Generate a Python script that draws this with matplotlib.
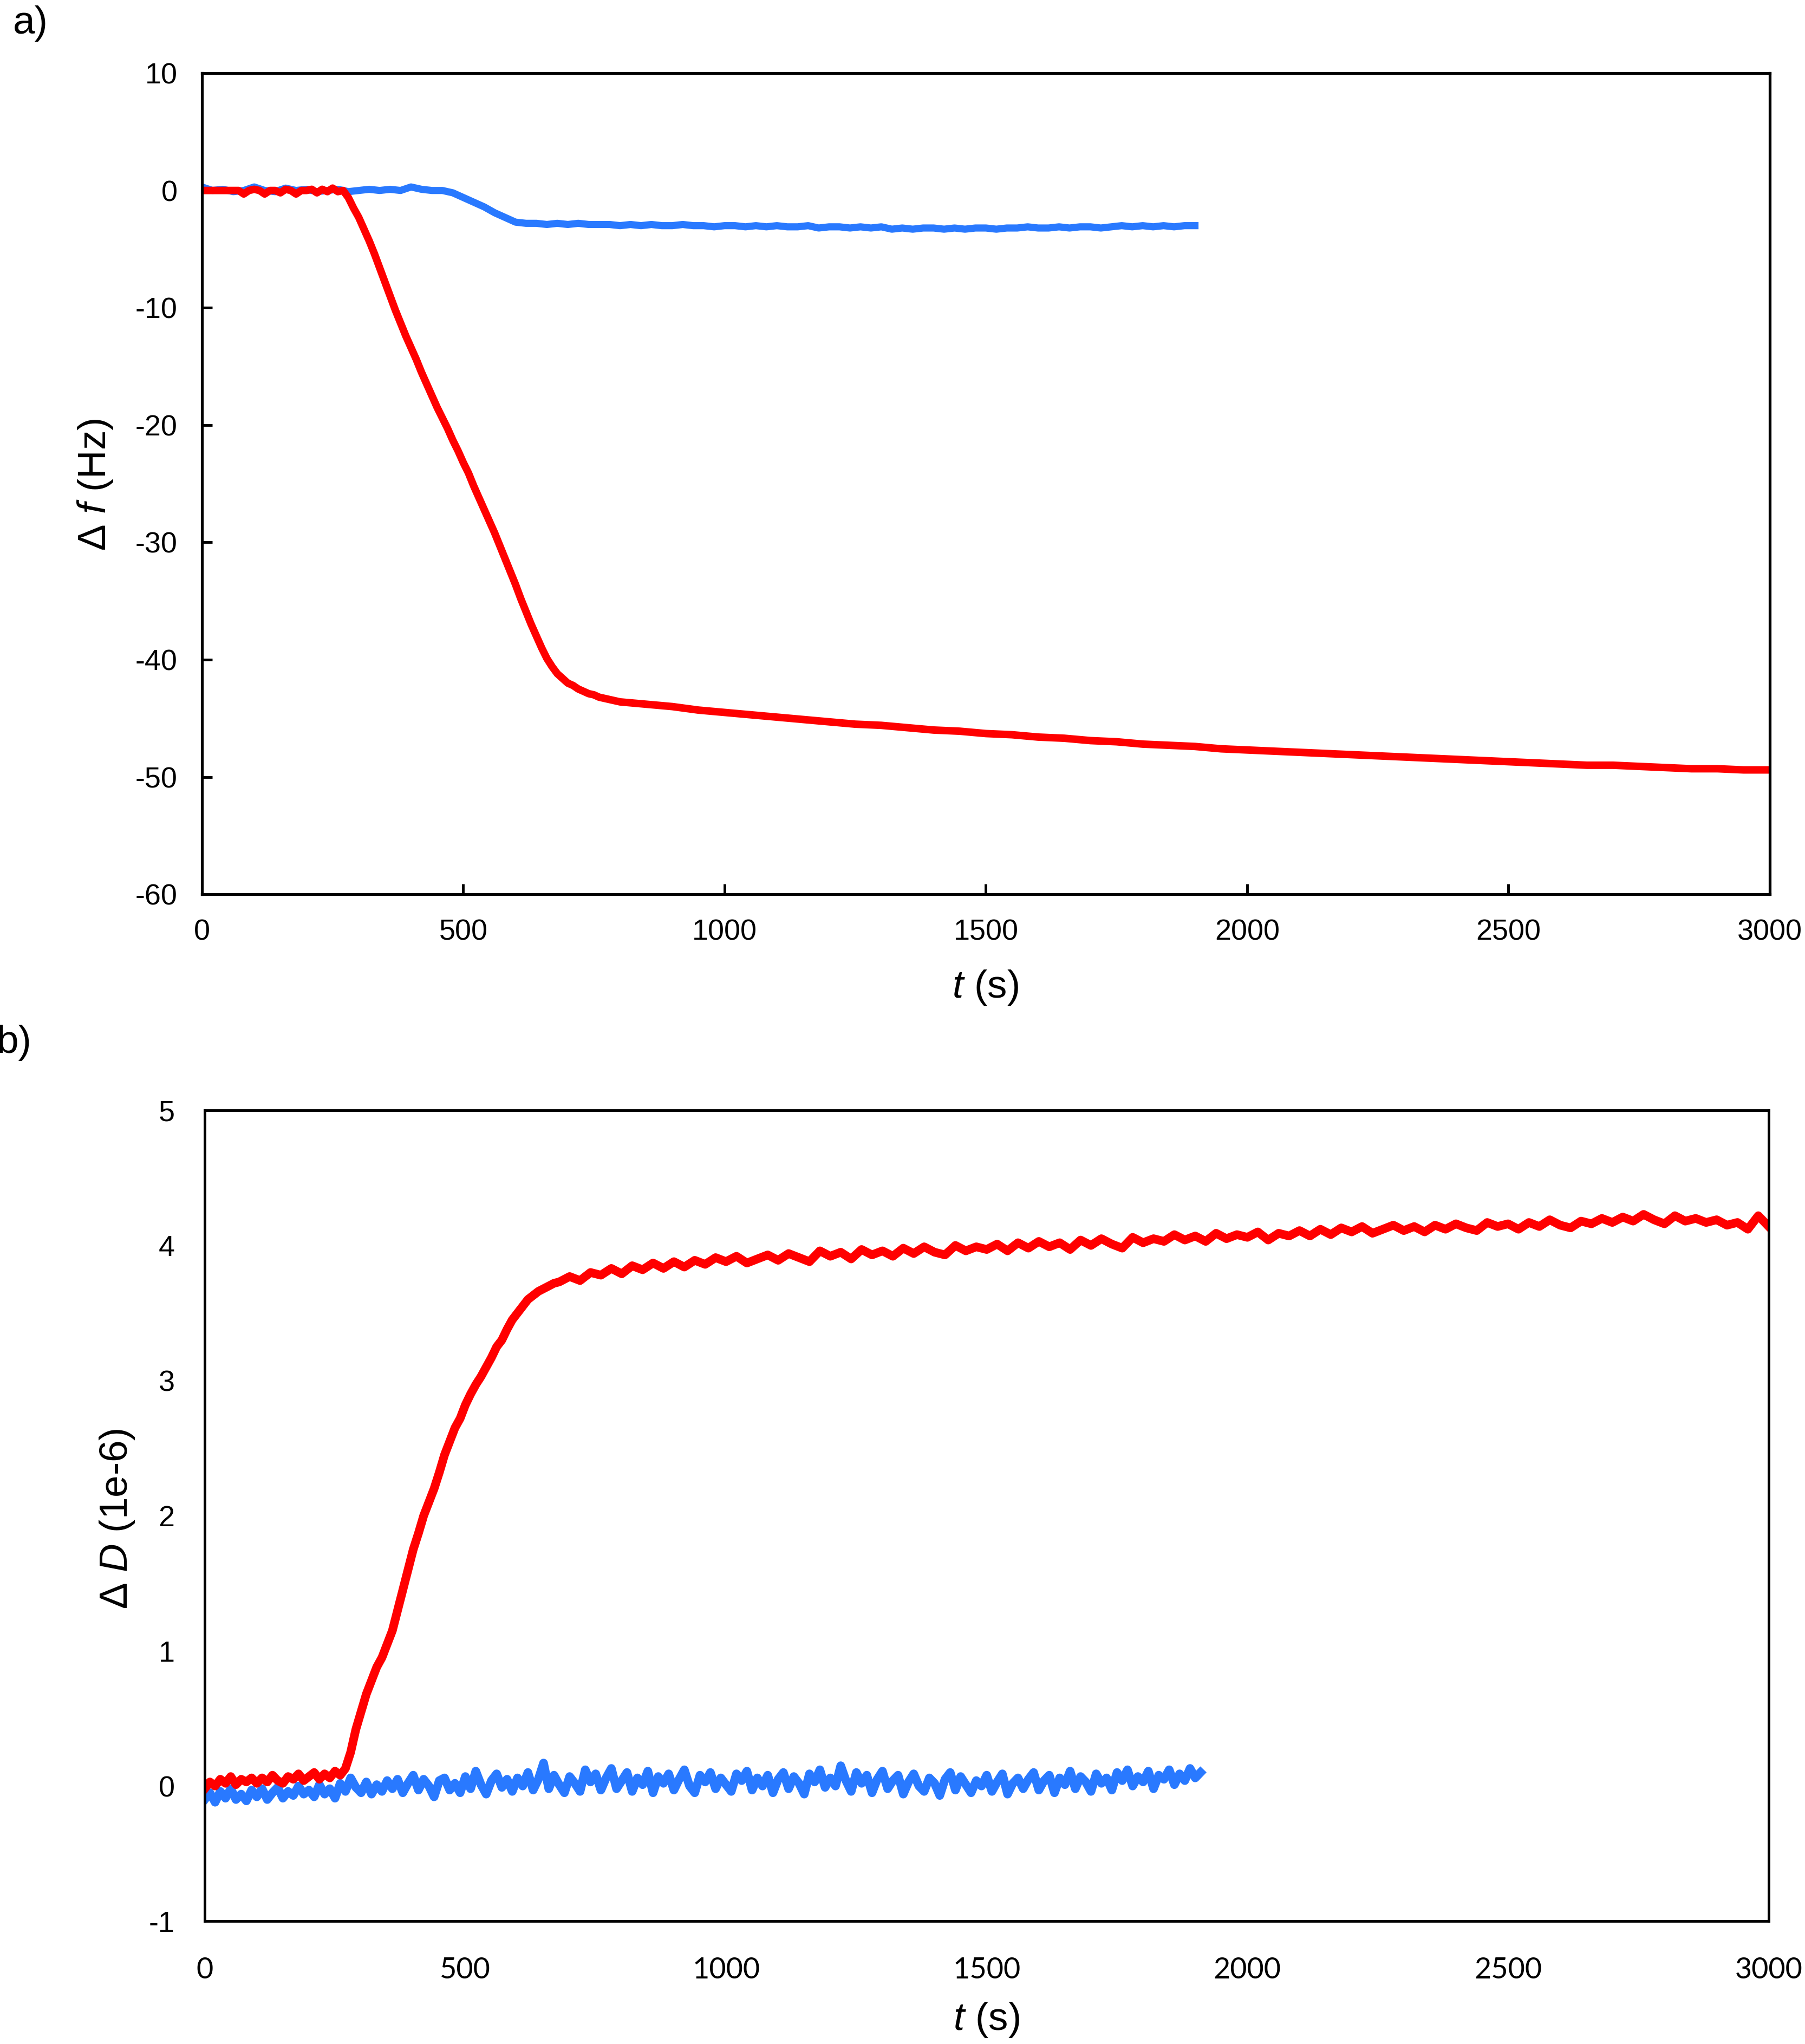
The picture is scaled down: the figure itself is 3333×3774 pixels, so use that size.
import numpy as np
import matplotlib
matplotlib.use("Agg")
import matplotlib.pyplot as plt

plt.rcParams['font.family'] = ['Liberation Sans', 'DejaVu Sans']
plt.rcParams['mathtext.fontset'] = 'custom'
plt.rcParams['mathtext.rm'] = 'Liberation Sans'
plt.rcParams['mathtext.it'] = 'Liberation Sans:italic'
plt.rcParams['axes.unicode_minus'] = False   # plain hyphen like the original

RED = '#FF0000'
BLUE = '#2979FF'

# ============================================
# DATA
# ============================================

# a) frequency shift, blue run, one reading every 20 s (0 ... 1900 s)
df_blue = [
    0.3, 0.0, 0.1, -0.1, 0.0, 0.3, 0.0, -0.1, 0.2, 0.0,
    0.1, -0.1, 0.0, 0.1, -0.1, 0.0, 0.1, 0.0, 0.1, 0.0,
    0.3, 0.1, 0.0, 0.0, -0.2, -0.6, -1.0, -1.4, -1.9, -2.3,
    -2.7, -2.8, -2.8, -2.9, -2.8, -2.9, -2.8, -2.9, -2.9, -2.9,
    -3.0, -2.9, -3.0, -2.9, -3.0, -3.0, -2.9, -3.0, -3.0, -3.1,
    -3.0, -3.0, -3.1, -3.0, -3.1, -3.0, -3.1, -3.1, -3.0, -3.2,
    -3.1, -3.1, -3.2, -3.1, -3.2, -3.1, -3.3, -3.2, -3.3, -3.2,
    -3.2, -3.3, -3.2, -3.3, -3.2, -3.2, -3.3, -3.2, -3.2, -3.1,
    -3.2, -3.2, -3.1, -3.2, -3.1, -3.1, -3.2, -3.1, -3.0, -3.1,
    -3.0, -3.1, -3.0, -3.1, -3.0, -3.0,
]
t_df_blue = np.arange(len(df_blue)) * 20.0

# a) frequency shift, red run: every 10 s up to 790 s ...
df_red_early = [
    0.0, 0.0, 0.0, 0.0, 0.0, 0.0, 0.0, 0.0, -0.3, 0.0,
    0.1, 0.0, -0.3, 0.0, 0.0, -0.2, 0.1, 0.0, -0.3, 0.0,
    0.0, 0.1, -0.2, 0.1, -0.1, 0.2, -0.1, 0.0, -0.6, -1.5,
    -2.3, -3.3, -4.3, -5.4, -6.6, -7.8, -9.0, -10.2, -11.3, -12.4,
    -13.4, -14.4, -15.5, -16.5, -17.5, -18.5, -19.4, -20.3, -21.3, -22.2,
    -23.2, -24.1, -25.2, -26.2, -27.2, -28.2, -29.2, -30.3, -31.4, -32.5,
    -33.6, -34.8, -35.9, -37.0, -38.0, -39.0, -39.9, -40.6, -41.2, -41.6,
    -42.0, -42.2, -42.5, -42.7, -42.9, -43.0, -43.2, -43.3, -43.4, -43.5,
]
t_df_red_early = np.arange(len(df_red_early)) * 10.0

# ... then every 50 s from 800 s to 3000 s
df_red_late = [
    -43.6, -43.8, -44.0, -44.3, -44.5, -44.7, -44.9, -45.1, -45.3, -45.5,
    -45.6, -45.8, -46.0, -46.1, -46.3, -46.4, -46.6, -46.7, -46.9, -47.0,
    -47.2, -47.3, -47.4, -47.6, -47.7, -47.8, -47.9, -48.0, -48.1, -48.2,
    -48.3, -48.4, -48.5, -48.6, -48.7, -48.8, -48.9, -49.0, -49.0, -49.1,
    -49.2, -49.3, -49.3, -49.4, -49.4,
]
t_df_red_late = 800.0 + np.arange(len(df_red_late)) * 50.0

# b) dissipation shift (1e-6), blue run, every 10 s (0 ... 1910 s)
dD_blue = [
    -0.10, -0.05, -0.12, -0.04, -0.09, -0.02, -0.10, -0.06, -0.11, -0.03,
    -0.08, -0.02, -0.10, -0.05, -0.01, -0.09, -0.04, -0.07, 0.00, -0.06,
    -0.03, -0.08, 0.01, -0.06, -0.02, -0.09, 0.02, -0.04, 0.06, -0.01,
    -0.05, 0.03, -0.06, 0.01, -0.04, 0.04, -0.02, 0.05, -0.05, 0.02,
    0.08, -0.03, 0.05, 0.00, -0.08, 0.04, 0.06, -0.03, 0.02, -0.05,
    0.07, -0.02, 0.11, 0.01, -0.06, 0.04, 0.09, -0.01, 0.05, -0.04,
    0.06, 0.00, 0.10, -0.03, 0.05, 0.17, -0.02, 0.08, 0.01, -0.05,
    0.07, 0.02, -0.04, 0.12, 0.03, 0.09, -0.03, 0.06, 0.13, -0.02,
    0.04, 0.10, -0.04, 0.06, 0.01, 0.11, -0.05, 0.07, 0.02, 0.09,
    -0.03, 0.05, 0.12, 0.00, -0.05, 0.08, 0.03, 0.10, -0.02, 0.06,
    0.01, -0.04, 0.09, 0.04, 0.11, -0.03, 0.06, 0.00, 0.08, -0.05,
    0.05, 0.10, -0.02, 0.07, 0.02, -0.06, 0.09, 0.03, 0.12, -0.01,
    0.06, 0.00, 0.15, 0.04, -0.04, 0.10, 0.02, 0.08, -0.05, 0.05,
    0.11, -0.02, 0.04, 0.08, -0.06, 0.03, 0.09, 0.00, -0.04, 0.06,
    0.02, -0.07, 0.05, 0.10, -0.03, 0.07, 0.01, -0.05, 0.04, 0.00,
    0.08, -0.04, 0.03, 0.09, -0.06, 0.02, 0.06, -0.02, 0.05, 0.10,
    -0.03, 0.04, 0.08, -0.05, 0.06, 0.01, 0.11, -0.02, 0.07, 0.03,
    -0.04, 0.09, 0.02, 0.06, -0.03, 0.10, 0.04, 0.12, 0.00, 0.07,
    0.03, 0.11, -0.02, 0.08, 0.05, 0.12, 0.01, 0.09, 0.04, 0.13,
    0.06, 0.10,
]
t_dD_blue = np.arange(len(dD_blue)) * 10.0

# b) dissipation shift, red run: every 10 s up to 690 s ...
dD_red_early = [
    -0.02, 0.03, 0.00, 0.05, 0.02, 0.07, 0.01, 0.05, 0.03, 0.06,
    0.02, 0.06, 0.03, 0.08, 0.04, 0.02, 0.07, 0.05, 0.09, 0.04,
    0.07, 0.10, 0.05, 0.09, 0.06, 0.11, 0.08, 0.13, 0.25, 0.42,
    0.55, 0.68, 0.78, 0.88, 0.95, 1.05, 1.15, 1.30, 1.45, 1.60,
    1.75, 1.87, 2.00, 2.10, 2.20, 2.32, 2.45, 2.55, 2.65, 2.72,
    2.82, 2.90, 2.97, 3.03, 3.10, 3.17, 3.25, 3.30, 3.38, 3.45,
    3.50, 3.55, 3.60, 3.63, 3.66, 3.68, 3.70, 3.72, 3.73, 3.75,
]
t_dD_red_early = np.arange(len(dD_red_early)) * 10.0

# ... then every 20 s from 700 s to 3000 s
dD_red_late = [
    3.77, 3.74, 3.80, 3.78, 3.83, 3.79, 3.85, 3.82, 3.87, 3.83,
    3.88, 3.84, 3.89, 3.86, 3.91, 3.88, 3.92, 3.87, 3.90, 3.93,
    3.89, 3.94, 3.91, 3.88, 3.96, 3.92, 3.95, 3.90, 3.97, 3.93,
    3.96, 3.92, 3.98, 3.94, 3.99, 3.95, 3.93, 4.00, 3.96, 3.99,
    3.97, 4.01, 3.96, 4.02, 3.98, 4.03, 3.99, 4.02, 3.97, 4.04,
    4.00, 4.05, 4.01, 3.98, 4.06, 4.02, 4.05, 4.03, 4.08, 4.04,
    4.07, 4.03, 4.09, 4.05, 4.08, 4.06, 4.10, 4.04, 4.09, 4.07,
    4.11, 4.07, 4.12, 4.08, 4.13, 4.10, 4.14, 4.09, 4.12, 4.15,
    4.11, 4.14, 4.10, 4.15, 4.12, 4.16, 4.13, 4.11, 4.17, 4.14,
    4.16, 4.12, 4.17, 4.14, 4.19, 4.15, 4.13, 4.18, 4.16, 4.20,
    4.17, 4.21, 4.18, 4.23, 4.19, 4.16, 4.22, 4.18, 4.20, 4.17,
    4.19, 4.15, 4.17, 4.12, 4.22, 4.14,
]
t_dD_red_late = 700.0 + np.arange(len(dD_red_late)) * 20.0

x_ticks = [0, 500, 1000, 1500, 2000, 2500, 3000]
f_ticks = [10, 0, -10, -20, -30, -40, -50, -60]
D_ticks = [5, 4, 3, 2, 1, 0, -1]

# ============================================
# FIGURE
# ============================================

fig = plt.figure(figsize=(13.332, 15.096), dpi=250)

# ---- panel a) ----
ax1 = fig.add_axes([0.1119, 0.5625, 0.8686, 0.4017])
ax1.plot(t_df_blue, df_blue, color=BLUE, linewidth=3.8, solid_joinstyle='round')
ax1.plot(np.concatenate([t_df_red_early, t_df_red_late]),
         df_red_early + df_red_late, color=RED, linewidth=4.0, solid_joinstyle='round')
ax1.set_xlim(0, 3000)
ax1.set_ylim(-60, 10)
ax1.set_xticks(x_ticks)
ax1.set_yticks(f_ticks)
ax1.tick_params(direction='in', length=5.5, width=1.4, labelsize=15.5, pad=13)
for s in ax1.spines.values():
    s.set_linewidth(1.5)

# ---- panel b) ----
ax2 = fig.add_axes([0.1134, 0.0601, 0.8665, 0.3967])
ax2.plot(t_dD_blue, dD_blue, color=BLUE, linewidth=4.6, solid_joinstyle='round')
ax2.plot(np.concatenate([t_dD_red_early, t_dD_red_late]),
         dD_red_early + dD_red_late, color=RED, linewidth=4.6, solid_joinstyle='round')
ax2.set_xlim(0, 3000)
ax2.set_ylim(-1, 5)
ax2.set_xticks(x_ticks)
ax2.set_yticks(D_ticks)
ax2.tick_params(axis='y', length=0, labelsize=15.5, pad=16)
ax2.tick_params(axis='x', length=0, labelsize=15.5, pad=19)
for lab in ax2.get_xticklabels():
    lab.set_family('Lato')
for s in ax2.spines.values():
    s.set_linewidth(1.4)

# axis labels (mixed italic / upright)
lab_kw = dict(fontsize=21, ha='center', va='center')
fig.text(0.0528, 0.7628, r'$\mathit{Δ\ f}$ (Hz)', rotation=90, **lab_kw)
fig.text(0.5458, 0.5167, r'$\mathit{t}$ (s)', **lab_kw)
fig.text(0.0651, 0.2571, r'$\mathit{Δ\ D}$ (1e-6)', rotation=90, **lab_kw)
fig.text(0.5466, 0.0117, r'$\mathit{t}$ (s)', **lab_kw)

# panel letters
fig.text(0.0072, 0.9886, 'a)', fontsize=21, ha='left', va='center')
fig.text(-0.002, 0.4899, 'b)', fontsize=21, ha='left', va='center')

plt.savefig("out.png", dpi=250)
